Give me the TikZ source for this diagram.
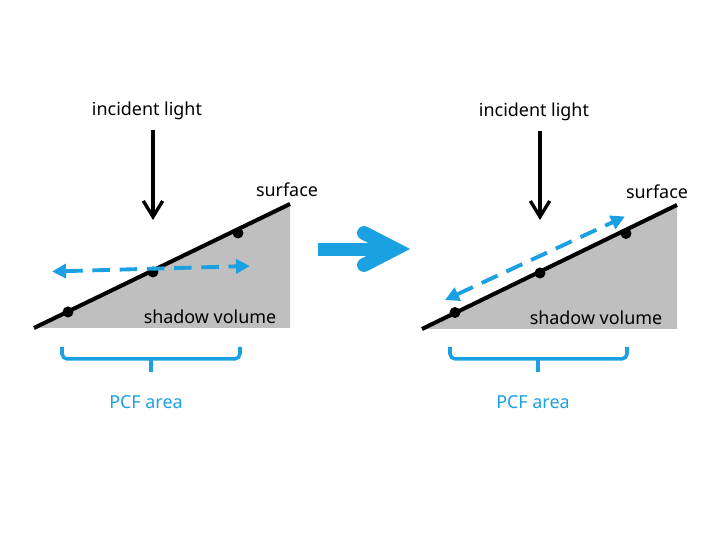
\documentclass[tikz,border=0pt]{standalone}
\usepackage{fontspec}
\setmainfont{Noto Sans}
\usetikzlibrary{arrows.meta}
\definecolor{pcfblue}{RGB}{27,161,226}
\definecolor{shadowgray}{RGB}{191,191,191}

\begin{document}
\begin{tikzpicture}[x=0.02cm, y=-0.02cm,
        lbl/.style    = {font=\fontsize{10.2}{12}\selectfont, inner sep=0pt},
        pcf/.style    = {lbl, text=pcfblue},
        surf/.style   = {line width=2.3pt},
        shadow/.style = {fill=shadowgray},
        dot/.style    = {circle, fill=black, inner sep=0pt, minimum size=0.22cm},
        ray/.style    = {-{Straight Barb[length=9pt,width=11pt]}, line width=1.9pt},
        bounce/.style = {{Triangle[length=8pt,width=8pt]}-{Triangle[length=8pt,width=8pt]},
                         pcfblue, line width=2.2pt, dash pattern=on 10pt off 5.5pt},
        brace/.style  = {pcfblue, line width=2pt, rounded corners=3pt}
    ]
        \useasboundingbox (0,0) rectangle (728,546);

        % left: before
        \coordinate (sA0) at (34,328);
        \coordinate (sA1) at (290,204);
        \fill[shadow] (sA0) -- (sA1) -- (sA1 |- sA0) -- cycle;
        \draw[surf] (sA0) -- (sA1);
        \node[dot] (dA1) at (68,312) {};
        \node[dot] (dA2) at (153,272) {};
        \node[dot] (dA3) at (238,233) {};

        \node[lbl] (lightA)  at (147,111) {incident light};
        \node[lbl] (surfA)   at (287,190) {surface};
        \node[lbl] (shadowA) at (210,317) {shadow volume};
        \coordinate (rayA0) at (153,130);
        \coordinate (rayA1) at (153,220);
        \draw[ray] (rayA0) -- (rayA1);

        \coordinate (bA0) at (52,271.5);
        \coordinate (bA1) at (250,266);
        \draw[bounce] (bA0) -- (bA1);

        \draw[brace] (62,347) -- (62,359) -- (240,359) -- (240,347);
        \draw[brace] (151,359) -- (151,372);
        \node[pcf] (pcfA) at (146,402) {PCF area};

        % middle arrow
        \fill[pcfblue] (318,243) rectangle (395,256);
        \draw[pcfblue, line width=7.9pt, line cap=round, line join=miter]
            (364,233) -- (395,249) -- (364,265);

        % right: after
        \coordinate (sB0) at (422,329);
        \coordinate (sB1) at (677,205);
        \fill[shadow] (sB0) -- (sB1) -- (sB1 |- sB0) -- cycle;
        \draw[surf] (sB0) -- (sB1);
        \node[dot] (dB1) at (455,312.5) {};
        \node[dot] (dB2) at (540,273) {};
        \node[dot] (dB3) at (626,233.5) {};

        \node[lbl] (lightB)  at (534,112) {incident light};
        \node[lbl] (surfB)   at (657,192) {surface};
        \node[lbl] (shadowB) at (596,318) {shadow volume};
        \coordinate (rayB0) at (540,131);
        \coordinate (rayB1) at (540,220);
        \draw[ray] (rayB0) -- (rayB1);

        \coordinate (bB0) at (445,300);
        \coordinate (bB1) at (625,216.5);
        \draw[bounce] (bB0) -- (bB1);

        \draw[brace] (450,347) -- (450,359) -- (627,359) -- (627,347);
        \draw[brace] (538,359) -- (538,372);
        \node[pcf] (pcfB) at (533,402) {PCF area};
    \end{tikzpicture}
\end{document}
